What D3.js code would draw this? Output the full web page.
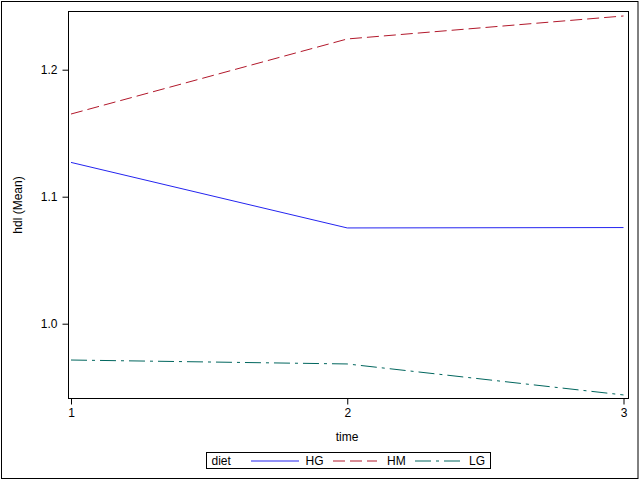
<!DOCTYPE html>
<html><head><meta charset="utf-8">
<script src="https://cdn.jsdelivr.net/npm/d3@7"></script>
<style>body{margin:0;background:#fff}svg{display:block}text{font-family:"Liberation Sans",Arial,sans-serif;fill:#000}</style>
</head><body>
<script>
const times = [1, 2, 3];
const seriesNames = ["HG", "HM", "LG"];
const hgValues = [1.127, 1.0754, 1.0757];
const hmValues = [1.1651, 1.2242, 1.2423];
const lgValues = [0.9714, 0.9683, 0.9439];
const yTicks = [1.0, 1.1, 1.2];
const colors = ["#2424f0", "#b2182b", "#01665e"];
const dashes = [null, "12,5", "16,5,3,5"];

const series = [hgValues, hmValues, lgValues].map((v, i) => ({name: seriesNames[i], values: v, color: colors[i], dash: dashes[i]}));

const W = 640, H = 480;
const L = 68.5, R = 628.5, T = 11.5, B = 398.5;
const svg = d3.select("body").append("svg").attr("width", W).attr("height", H);
svg.append("rect").attr("x", 1.5).attr("y", 1.5).attr("width", 636.5).attr("height", 477).attr("fill", "none").attr("stroke", "#000");

const x = d3.scaleLinear().domain([1, 3]).range([71, 623.5]);
const y = d3.scaleLinear().domain([1.0, 1.2]).range([323.7, 69.7]);

const g = svg.append("g");
const xAxis = g.append("g").attr("transform", `translate(0,${B})`).call(d3.axisBottom(x).tickValues(times).tickFormat(d3.format("d")).tickSize(6).tickPadding(4));
const yAxis = g.append("g").attr("transform", `translate(${L},0)`).call(d3.axisLeft(y).tickValues(yTicks).tickFormat(d3.format(".1f")).tickSize(6).tickPadding(5));
[xAxis, yAxis].forEach(a => { a.select(".domain").remove(); a.selectAll("text").style("font-size", "12px").style("font-family", "'Liberation Sans',Arial,sans-serif"); a.selectAll("line").attr("stroke", "#000"); });

const line = d3.line().x((d, i) => x(times[i])).y(d => y(d));
svg.selectAll("path.series").data(series).join("path").attr("class", "series")
  .attr("d", d => line(d.values)).attr("fill", "none").attr("stroke", d => d.color)
  .attr("stroke-width", 1).attr("stroke-dasharray", d => d.dash);

svg.append("rect").attr("x", L).attr("y", T).attr("width", R - L).attr("height", B - T).attr("fill", "none").attr("stroke", "#000");

svg.append("text").attr("x", 347).attr("y", 441).attr("text-anchor", "middle").style("font-size", "12px").text("time");
svg.append("text").attr("transform", "translate(22,205) rotate(-90)").attr("text-anchor", "middle").style("font-size", "12px").text("hdl (Mean)");

// legend
const lg = svg.append("g");
lg.append("rect").attr("x", 206.5).attr("y", 452.5).attr("width", 284).attr("height", 16).attr("fill", "none").attr("stroke", "#000");
lg.append("text").attr("x", 211.5).attr("y", 465).style("font-size", "12px").text("diet");
const lx = [251, 333, 415], lw = [48, 44, 47], tx = [305.5, 387, 469];
series.forEach((s, i) => {
  lg.append("line").attr("x1", lx[i]).attr("x2", lx[i] + lw[i]).attr("y1", 461).attr("y2", 461)
    .attr("stroke", s.color).attr("stroke-dasharray", s.dash);
  lg.append("text").attr("x", tx[i]).attr("y", 465).style("font-size", "12px").text(s.name);
});
</script>
</body></html>
